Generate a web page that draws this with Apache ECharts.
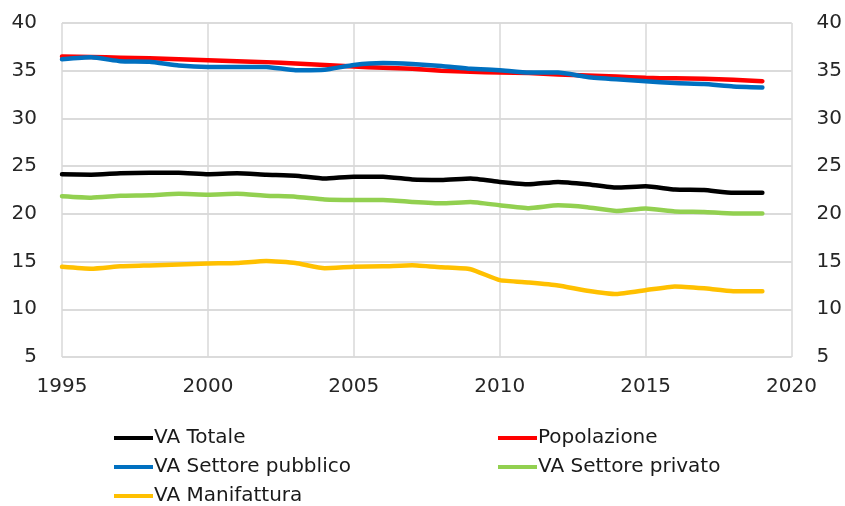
<!DOCTYPE html>
<html>
<head>
<meta charset="utf-8">
<script src="https://cdn.jsdelivr.net/npm/echarts@6/dist/echarts.min.js"></script>
<style>
  html, body { margin: 0; padding: 0; background: #fff; }
  #chart { width: 845px; height: 506px; }
</style>
</head>
<body>
<div id="chart"></div>
<script>
// Years covered by every series
const years = [1995, 1996, 1997, 1998, 1999, 2000, 2001, 2002, 2003, 2004, 2005, 2006, 2007,
               2008, 2009, 2010, 2011, 2012, 2013, 2014, 2015, 2016, 2017, 2018, 2019];

const vaTotale = [24.15, 24.1, 24.25, 24.3, 24.3, 24.15, 24.25, 24.1, 24.0, 23.7, 23.9, 23.9, 23.6,
                  23.55, 23.7, 23.35, 23.1, 23.35, 23.1, 22.75, 22.9, 22.55, 22.5, 22.2, 22.2];
const popolazione = [36.5, 36.45, 36.35, 36.3, 36.2, 36.1, 36.0, 35.9, 35.75, 35.6, 35.45, 35.3, 35.2,
                     35.0, 34.9, 34.8, 34.75, 34.6, 34.5, 34.4, 34.25, 34.2, 34.15, 34.05, 33.9];
const vaPubblico = [36.2, 36.4, 36.0, 35.95, 35.55, 35.4, 35.4, 35.4, 35.05, 35.1, 35.6, 35.8, 35.7,
                    35.5, 35.2, 35.05, 34.8, 34.8, 34.35, 34.1, 33.9, 33.7, 33.6, 33.35, 33.25];
const vaPrivato = [21.85, 21.7, 21.9, 21.95, 22.1, 22.0, 22.1, 21.9, 21.8, 21.5, 21.45, 21.45, 21.25,
                   21.1, 21.25, 20.9, 20.6, 20.9, 20.7, 20.3, 20.55, 20.25, 20.2, 20.05, 20.05];
const vaManifattura = [14.45, 14.25, 14.5, 14.6, 14.7, 14.8, 14.85, 15.05, 14.85, 14.3, 14.45, 14.5, 14.62,
                       14.4, 14.2, 13.05, 12.8, 12.5, 11.95, 11.6, 12.0, 12.4, 12.2, 11.9, 11.9];

// Axis ticks
const xTicks = [1995, 2000, 2005, 2010, 2015, 2020];
const yTicks = [5, 10, 15, 20, 25, 30, 35, 40];

const seriesDefs = [
  { name: 'VA Totale', values: vaTotale, color: '#000000' },
  { name: 'Popolazione', values: popolazione, color: '#ff0000' },
  { name: 'VA Settore pubblico', values: vaPubblico, color: '#0070c0' },
  { name: 'VA Settore privato', values: vaPrivato, color: '#92d050' },
  { name: 'VA Manifattura', values: vaManifattura, color: '#ffc000' }
];

const labelFont = { fontFamily: 'DejaVu Sans', fontSize: 20, color: '#262626' };
const gridLine = { show: true, lineStyle: { color: '#d9d9d9', width: 1.5 } };

function yAxis(position) {
  return {
    type: 'value',
    position: position,
    min: yTicks[0],
    max: yTicks[yTicks.length - 1],
    interval: yTicks[1] - yTicks[0],
    axisLine: { show: false },
    axisTick: { show: false },
    splitLine: gridLine,
    axisLabel: Object.assign({ margin: 25 }, labelFont)
  };
}

const legendCommon = {
  orient: 'vertical',
  padding: 0,
  height: 90,
  icon: 'rect',
  itemWidth: 39,
  itemHeight: 4,
  itemGap: 9,
  textStyle: {
    fontFamily: 'DejaVu Sans', fontSize: 20, lineHeight: 20, color: '#1a1a1a',
    padding: [0, 0, 0, -4]
  }
};

const chart = echarts.init(document.getElementById('chart'), null, { renderer: 'canvas' });
chart.setOption({
  animation: false,
  backgroundColor: '#ffffff',
  grid: { left: 62, right: 53, top: 23, bottom: 149, containLabel: false },
  xAxis: {
    type: 'value',
    min: xTicks[0],
    max: xTicks[xTicks.length - 1],
    interval: xTicks[1] - xTicks[0],
    axisLine: { show: false },
    axisTick: { show: false },
    splitLine: gridLine,
    axisLabel: Object.assign({ margin: 20, formatter: v => String(v) }, labelFont)
  },
  yAxis: [yAxis('left'), yAxis('right')],
  legend: [
    Object.assign({ left: 114, top: 428, data: ['VA Totale', 'VA Settore pubblico', 'VA Manifattura'] }, legendCommon),
    Object.assign({ left: 498, top: 428, data: ['Popolazione', 'VA Settore privato'] }, legendCommon)
  ],
  series: seriesDefs.map(s => ({
    name: s.name,
    type: 'line',
    yAxisIndex: 0,
    showSymbol: false,
    symbol: 'none',
    smooth: 0.15,
    color: s.color,
    lineStyle: { color: s.color, width: 4.5, cap: 'round', join: 'round' },
    data: years.map((y, i) => [y, s.values[i]])
  }))
});
</script>
</body>
</html>
